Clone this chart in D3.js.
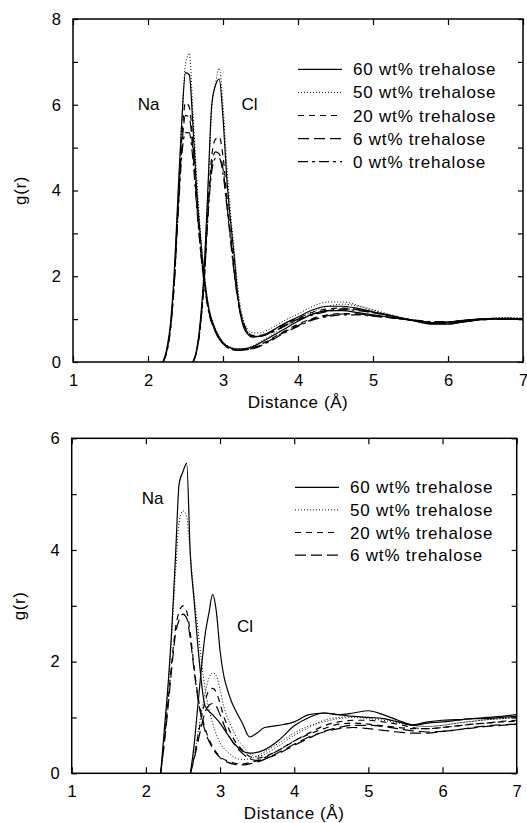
<!DOCTYPE html>
<html>
<head>
<meta charset="utf-8">
<script src="https://cdn.jsdelivr.net/npm/d3@7"></script>
<style>
  body { margin: 0; background: #fff; }
  svg text { font-family: "Liberation Sans", Arial, sans-serif; fill: #000; }
</style>
</head>
<body>
<div id="chart"></div>
<script>
var width = 527, height = 823;

// distance grids (Angstrom)
var naR = [2.2, 2.25, 2.3, 2.35, 2.4, 2.45, 2.5, 2.55, 2.6, 2.65, 2.7, 2.8, 2.9, 3.0, 3.1, 3.2, 3.3, 3.4,
           3.6, 3.8, 4.0, 4.2, 4.4, 4.6, 4.8, 5.0, 5.2, 5.4, 5.6, 5.8, 6.0, 6.2, 6.4, 6.6, 6.8, 7.0];
var clR = [2.6, 2.65, 2.7, 2.75, 2.8, 2.85, 2.9, 2.95, 3.0, 3.05, 3.1, 3.15, 3.2, 3.3, 3.4, 3.5, 3.6,
           3.8, 4.0, 4.2, 4.4, 4.6, 4.8, 5.0, 5.2, 5.4, 5.6, 5.8, 6.0, 6.2, 6.4, 6.6, 6.8, 7.0];

// top panel
var topLabels = ["60 wt% trehalose", "50 wt% trehalose", "20 wt% trehalose", "6 wt% trehalose", "0 wt% trehalose"];
var topNa60 = [0, 0.3, 0.9, 2.1, 3.9, 5.6, 6.75, 6.7, 5.5, 4.0, 2.9, 1.35, 0.75, 0.45, 0.33, 0.3, 0.31, 0.36, 0.55, 0.75, 0.95, 1.12, 1.2, 1.2, 1.15, 1.1, 1.05, 1.0, 0.95, 0.92, 0.93, 0.97, 1.0, 1.02, 1.02, 1.01];
var topNa50 = [0, 0.28, 0.85, 2.0, 3.8, 5.6, 6.95, 7.2, 5.8, 4.3, 3.0, 1.4, 0.78, 0.47, 0.35, 0.31, 0.32, 0.38, 0.58, 0.8, 1.0, 1.18, 1.3, 1.35, 1.3, 1.2, 1.1, 1.02, 0.95, 0.9, 0.9, 0.95, 0.99, 1.02, 1.03, 1.02];
var topNa20 = [0, 0.25, 0.8, 1.9, 3.6, 5.2, 6.05, 5.95, 5.1, 3.8, 2.7, 1.3, 0.72, 0.44, 0.32, 0.28, 0.29, 0.33, 0.5, 0.7, 0.88, 1.02, 1.1, 1.13, 1.12, 1.08, 1.04, 1.0, 0.96, 0.92, 0.93, 0.97, 1.0, 1.01, 1.01, 1.0];
var topNa6  = [0, 0.25, 0.8, 1.85, 3.5, 5.0, 5.75, 5.7, 4.9, 3.7, 2.65, 1.28, 0.7, 0.43, 0.31, 0.28, 0.28, 0.32, 0.48, 0.68, 0.85, 1.0, 1.08, 1.12, 1.12, 1.08, 1.04, 1.0, 0.96, 0.93, 0.93, 0.96, 0.99, 1.0, 1.0, 1.0];
var topNa0  = [0, 0.22, 0.75, 1.8, 3.4, 4.8, 5.35, 5.35, 4.7, 3.6, 2.6, 1.25, 0.7, 0.42, 0.3, 0.27, 0.28, 0.31, 0.46, 0.66, 0.83, 0.98, 1.06, 1.1, 1.1, 1.07, 1.04, 1.0, 0.97, 0.94, 0.94, 0.96, 0.99, 1.0, 1.0, 1.0];
var topCl60 = [0, 0.3, 1.0, 2.2, 4.1, 6.0, 6.45, 6.6, 5.7, 4.3, 3.3, 2.45, 1.5, 0.72, 0.58, 0.6, 0.68, 0.88, 1.05, 1.22, 1.3, 1.3, 1.25, 1.17, 1.1, 1.02, 0.94, 0.88, 0.88, 0.93, 0.98, 1.0, 1.0, 0.99];
var topCl50 = [0, 0.28, 0.95, 2.1, 4.0, 5.9, 6.5, 6.85, 6.0, 4.6, 3.5, 2.6, 1.7, 0.85, 0.68, 0.68, 0.75, 0.95, 1.12, 1.3, 1.4, 1.4, 1.32, 1.22, 1.12, 1.02, 0.93, 0.88, 0.88, 0.93, 0.98, 1.02, 1.03, 1.02];
var topCl20 = [0, 0.27, 0.9, 2.0, 3.6, 4.8, 5.2, 5.25, 4.8, 3.9, 3.0, 2.2, 1.5, 0.8, 0.62, 0.62, 0.68, 0.86, 1.02, 1.16, 1.24, 1.26, 1.22, 1.15, 1.08, 1.01, 0.94, 0.9, 0.9, 0.94, 0.98, 1.0, 1.01, 1.0];
var topCl6  = [0, 0.26, 0.88, 1.95, 3.5, 4.6, 4.9, 4.85, 4.5, 3.7, 2.9, 2.1, 1.45, 0.78, 0.6, 0.6, 0.66, 0.83, 1.0, 1.12, 1.2, 1.24, 1.22, 1.16, 1.09, 1.02, 0.95, 0.9, 0.9, 0.94, 0.98, 1.0, 1.0, 1.0];
var topCl0  = [0, 0.25, 0.85, 1.9, 3.4, 4.45, 4.75, 4.75, 4.4, 3.65, 2.85, 2.05, 1.42, 0.77, 0.6, 0.6, 0.65, 0.82, 0.98, 1.1, 1.18, 1.22, 1.2, 1.15, 1.09, 1.02, 0.96, 0.91, 0.91, 0.94, 0.98, 1.0, 1.0, 1.0];

// bottom panel
var botLabels = ["60 wt% trehalose", "50 wt% trehalose", "20 wt% trehalose", "6 wt% trehalose"];
var botNa60 = [0, 0.8, 1.6, 2.6, 3.9, 5.2, 5.4, 5.55, 3.9, 3.1, 2.3, 1.2, 1.05, 0.9, 0.7, 0.52, 0.4, 0.36, 0.42, 0.6, 0.85, 1.0, 1.08, 1.05, 1.02, 1.0, 0.98, 0.92, 0.86, 0.9, 0.92, 0.95, 0.98, 0.98, 1.0, 1.02];
var botNa50 = [0, 0.7, 1.5, 2.5, 3.6, 4.5, 4.7, 4.6, 3.9, 3.2, 2.6, 1.5, 0.9, 0.55, 0.38, 0.28, 0.25, 0.26, 0.38, 0.55, 0.72, 0.85, 0.92, 0.98, 1.0, 0.98, 0.95, 0.9, 0.86, 0.84, 0.86, 0.9, 0.93, 0.96, 0.98, 1.0];
var botNa20 = [0, 0.6, 1.3, 2.0, 2.6, 2.9, 3.0, 2.9, 2.5, 1.9, 1.4, 0.8, 0.48, 0.3, 0.22, 0.18, 0.17, 0.19, 0.28, 0.42, 0.58, 0.7, 0.8, 0.88, 0.9, 0.88, 0.85, 0.82, 0.8, 0.8, 0.82, 0.85, 0.88, 0.9, 0.92, 0.93];
var botNa6  = [0, 0.55, 1.2, 1.9, 2.5, 2.75, 2.85, 2.78, 2.4, 1.85, 1.35, 0.75, 0.45, 0.28, 0.2, 0.16, 0.15, 0.17, 0.25, 0.38, 0.52, 0.65, 0.74, 0.8, 0.82, 0.8, 0.77, 0.74, 0.72, 0.72, 0.75, 0.78, 0.82, 0.85, 0.87, 0.88];
var botCl60 = [0, 0.5, 1.2, 1.9, 2.5, 2.87, 3.2, 2.9, 2.2, 1.75, 1.5, 1.3, 1.15, 0.9, 0.65, 0.72, 0.82, 0.86, 0.92, 1.05, 1.08, 1.05, 1.08, 1.12, 1.05, 0.95, 0.87, 0.92, 0.95, 0.96, 0.98, 1.0, 1.02, 1.05];
var botCl50 = [0, 0.3, 0.7, 1.1, 1.45, 1.7, 1.8, 1.75, 1.5, 1.2, 1.0, 0.85, 0.7, 0.5, 0.35, 0.3, 0.34, 0.5, 0.68, 0.82, 0.95, 1.0, 1.02, 1.0, 0.98, 0.93, 0.86, 0.84, 0.86, 0.9, 0.93, 0.96, 0.98, 1.0];
var botCl20 = [0, 0.28, 0.65, 1.0, 1.3, 1.48, 1.52, 1.45, 1.25, 1.02, 0.85, 0.7, 0.58, 0.42, 0.3, 0.27, 0.3, 0.42, 0.58, 0.72, 0.85, 0.92, 0.95, 0.95, 0.92, 0.88, 0.82, 0.8, 0.82, 0.85, 0.88, 0.9, 0.93, 0.95];
var botCl6  = [0, 0.25, 0.55, 0.85, 1.1, 1.22, 1.25, 1.2, 1.05, 0.88, 0.72, 0.6, 0.5, 0.36, 0.26, 0.23, 0.26, 0.36, 0.5, 0.63, 0.75, 0.82, 0.86, 0.86, 0.84, 0.8, 0.76, 0.74, 0.75, 0.78, 0.81, 0.84, 0.86, 0.88];

// line styles per concentration: 60, 50, 20, 6, 0
var dashes = [null, "1,2", "6,5", "11,5", "10,4,3,4"];

var svg = d3.select("#chart").append("svg")
    .attr("width", width)
    .attr("height", height);

function draw_panel(p) {
  var x = d3.scaleLinear().domain([1, 7]).range([p.left, p.right]);
  var y = d3.scaleLinear().domain([0, p.ymax]).range([p.bottom, p.top]);
  var g = svg.append("g");

  var line = d3.line()
      .x(function (d) { return x(d[0]); })
      .y(function (d) { return y(d[1]); })
      .curve(d3.curveMonotoneX);

  // curves, Na then Cl for each concentration
  p.series.forEach(function (s, i) {
    [[naR, s.na], [clR, s.cl]].forEach(function (pair) {
      g.append("path")
          .datum(d3.zip(pair[0], pair[1]))
          .attr("d", line)
          .attr("fill", "none")
          .attr("stroke", "#000")
          .attr("stroke-width", i == 1 ? 1 : 1.2)
          .attr("stroke-dasharray", dashes[i]);
    });
  });

  // frame
  g.append("rect")
      .attr("x", p.left).attr("y", p.top)
      .attr("width", p.right - p.left).attr("height", p.bottom - p.top)
      .attr("fill", "none").attr("stroke", "#000").attr("stroke-width", 1.5);

  var fmt = function (d) { return d % 2 == 0 ? d : ""; };
  var xt = d3.range(1, 8), yt = d3.range(0, p.ymax + 1);

  g.append("g").attr("transform", "translate(0," + p.bottom + ")")
      .call(d3.axisBottom(x).tickValues(xt).tickSize(-6).tickPadding(12).tickFormat(d3.format("d")))
      .call(styleAxis);
  g.append("g").attr("transform", "translate(0," + p.top + ")")
      .call(d3.axisTop(x).tickValues(xt).tickSize(-6).tickFormat(""))
      .call(styleAxis);
  g.append("g").attr("transform", "translate(" + p.left + ",0)")
      .call(d3.axisLeft(y).tickValues(yt).tickSize(-5).tickPadding(12).tickFormat(fmt))
      .call(styleAxis);
  g.append("g").attr("transform", "translate(" + p.right + ",0)")
      .call(d3.axisRight(y).tickValues(yt).tickSize(-5).tickFormat(""))
      .call(styleAxis);

  // axis titles
  g.append("text")
      .attr("x", (p.left + p.right) / 2)
      .attr("y", p.bottom + 46)
      .attr("text-anchor", "middle")
      .attr("font-size", 17)
      .attr("letter-spacing", 0.6)
      .text("Distance (\u00c5)");
  g.append("text")
      .attr("transform", "translate(" + (p.left - 47) + "," + ((p.top + p.bottom) / 2) + ") rotate(-90)")
      .attr("text-anchor", "middle")
      .attr("font-size", 17)
      .attr("letter-spacing", 0.6)
      .text("g(r)");

  // ion labels
  p.ions.forEach(function (d) {
    g.append("text")
        .attr("x", d.x).attr("y", d.y)
        .attr("text-anchor", "middle")
        .attr("font-size", 17)
        .text(d.name);
  });

  // legend
  var leg = g.append("g");
  p.labels.forEach(function (lab, i) {
    var ly = p.legY + i * p.legStep;
    leg.append("line")
        .attr("x1", p.legX).attr("x2", p.legX + 44)
        .attr("y1", ly).attr("y2", ly)
        .attr("stroke", "#000")
        .attr("stroke-width", i == 1 ? 1 : 1.2)
        .attr("stroke-dasharray", dashes[i]);
    leg.append("text")
        .attr("x", p.legX + 55).attr("y", ly + 6)
        .attr("font-size", 17)
        .attr("letter-spacing", 0.8)
        .text(lab);
  });
}

function styleAxis(sel) {
  sel.select(".domain").remove();
  sel.selectAll("line").attr("stroke", "#000").attr("stroke-width", 1.2);
  sel.selectAll("text")
      .attr("font-size", 16.5)
      .style("font-family", "'Liberation Sans', Arial, sans-serif");
}

draw_panel({
  left: 73, right: 523, top: 19, bottom: 362, ymax: 8,
  series: [
    { na: topNa60, cl: topCl60 },
    { na: topNa50, cl: topCl50 },
    { na: topNa20, cl: topCl20 },
    { na: topNa6,  cl: topCl6 },
    { na: topNa0,  cl: topCl0 }
  ],
  labels: topLabels,
  legX: 298, legY: 69.3, legStep: 23.1,
  ions: [{ name: "Na", x: 148.5, y: 110 }, { name: "Cl", x: 249.5, y: 110 }]
});

draw_panel({
  left: 71.7, right: 516.7, top: 438.3, bottom: 773.3, ymax: 6,
  series: [
    { na: botNa60, cl: botCl60 },
    { na: botNa50, cl: botCl50 },
    { na: botNa20, cl: botCl20 },
    { na: botNa6,  cl: botCl6 }
  ],
  labels: botLabels,
  legX: 295, legY: 487.3, legStep: 22.6,
  ions: [{ name: "Na", x: 152.5, y: 504 }, { name: "Cl", x: 245, y: 632 }]
});
</script>
</body>
</html>
